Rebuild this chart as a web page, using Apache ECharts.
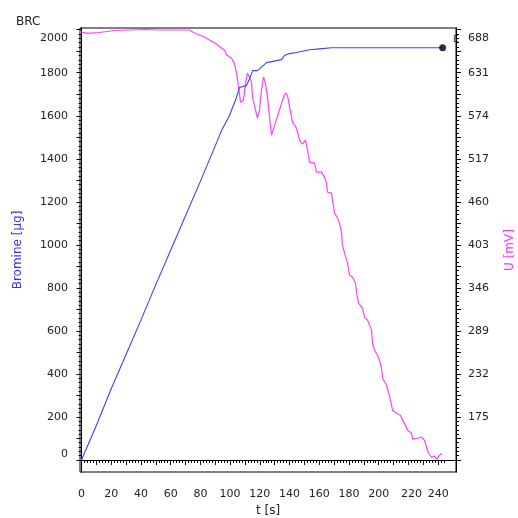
<!DOCTYPE html>
<html><head><meta charset="utf-8">
<script src="https://cdn.jsdelivr.net/npm/echarts@6/dist/echarts.min.js"></script>
<style>html,body{margin:0;padding:0;background:#fff}#c{width:518px;height:518px}</style>
</head><body><div id="c"></div>
<script>
// Bromine [µg] vs t [s]
const bromineT = [0, 10, 20, 30, 40, 50, 60, 70, 80, 90, 94.2, 99.6, 104.3, 106.3, 111, 113.2, 115.2, 118.4, 124.5, 134.6, 136.6, 140, 144.7, 153.4, 160.2, 168.2, 243];
const bromineV = [0, 160, 331, 490, 650, 815, 975, 1135, 1295, 1460, 1531, 1601, 1685, 1731, 1740, 1773, 1810, 1810, 1847, 1861, 1880, 1889, 1894, 1907, 1911, 1916, 1916];
// U [mV] vs t [s]
const voltT = [-1, 4, 12.1, 22.2, 42.4, 52.5, 72.7, 76, 82.8, 86.1, 90.8, 94.2, 96.2, 97.6, 100.9, 103, 104.3, 105.7, 107, 108.3, 109, 110.4, 111.7, 113, 114.4, 115.1, 117.1, 118.4, 119.8, 121.1, 122.5, 123.8, 125.2, 126.5, 127.9, 128.5, 130.6, 133.2, 135.3, 137.3, 138.6, 140, 142, 144.7, 146.7, 148.7, 150.7, 152.1, 153.4, 156.8, 158.1, 161.5, 163.5, 164.9, 165.5, 168.2, 168.9, 170.3, 172.3, 173.6, 175, 175.6, 177, 179, 180.4, 182.4, 184.4, 185.1, 186.4, 189.1, 190.4, 192.5, 195.2, 195.8, 197.2, 199.2, 200.5, 201.9, 202.6, 205.2, 206.6, 207.9, 209.3, 212, 214.7, 216, 218, 219.4, 222.1, 222.7, 226.1, 228.8, 230.8, 232.2, 233.5, 235.5, 237.6, 238.9, 240.2, 241.6, 242.7];
const voltV = [685.3, 683.2, 684.3, 687, 688.3, 687.6, 687.6, 683.6, 678.3, 674.3, 669, 663.7, 661, 654.5, 650.5, 642.5, 630.6, 612, 592, 590.7, 594.7, 617.3, 630.6, 630.6, 618.7, 598.8, 581.6, 571, 581.6, 608, 625.3, 617.3, 598.8, 572.3, 548.3, 552.4, 565.5, 581.6, 594.8, 604.1, 601.4, 585.5, 565.5, 557.6, 541.7, 536.5, 541.7, 528.5, 512.6, 511.2, 499.4, 499.4, 492.7, 484.8, 472.8, 471.5, 462.3, 445, 438.4, 431.8, 418.5, 402.6, 392, 378.7, 362.8, 360.2, 352.2, 339, 325.7, 319.1, 307.1, 303.2, 290, 272.7, 263.4, 256.8, 250.2, 239.6, 226.3, 217, 207.8, 197.2, 183.9, 179.9, 177.3, 170.7, 164.1, 157.4, 153.4, 145.5, 146.8, 148.1, 144.1, 134.9, 126.9, 121.6, 123, 119, 121.6, 125.6, 125.6];
// end marker
const endPoint = [243, 1916];
const endLabel = 'E';
// tick labels
const xLabels = [0, 20, 40, 60, 80, 100, 120, 140, 160, 180, 200, 220, 240];
const leftLabels = [0, 200, 400, 600, 800, 1000, 1200, 1400, 1600, 1800, 2000];
const rightLabels = [175, 232, 289, 346, 403, 460, 517, 574, 631, 688];

const FONT = 'DejaVu Sans';
const range = (a, b, s) => { const r = []; for (let v = a; v <= b + 1e-9; v += s) r.push(+v.toFixed(3)); return r; };

const chart = echarts.init(document.getElementById('c'));
const baseAxis = {
  axisLine: { show: true, lineStyle: { color: '#000', width: 1 } },
  splitLine: { show: false },
};
chart.setOption({
  animation: false,
  backgroundColor: '#fff',
  title: { text: 'BRC', left: 11, top: 11, textStyle: { fontFamily: FONT, fontSize: 12, fontWeight: 'normal', color: '#222' } },
  grid: { left: 80, right: 62, top: 28, bottom: 46, show: true, borderColor: '#000', borderWidth: 1, containLabel: false, outerBoundsMode: 'none' },
  xAxis: [
    Object.assign({}, baseAxis, {
      type: 'value', min: -1, max: 252, position: 'bottom',
      axisTick: { show: true, customValues: range(0, 244, 2), length: 3, lineStyle: { color: '#000' } },
      axisLabel: { show: false },
      name: 't [s]', nameLocation: 'middle', nameGap: 33,
      nameTextStyle: { fontFamily: FONT, fontSize: 12, color: '#222' }
    }),
    Object.assign({}, baseAxis, {
      type: 'value', min: -1, max: 252, position: 'bottom',
      axisTick: { show: true, customValues: range(0, 240, 10), length: 5, lineStyle: { color: '#000' } },
      axisLabel: {
        show: true, customValues: xLabels, margin: 17, fontFamily: FONT, fontSize: 11, color: '#222',
        formatter: v => v === 220 ? '{r|220}' : String(v),
        rich: { r: { fontFamily: FONT, fontSize: 11, color: '#222', padding: [0, 0, 0, 6] } }
      }
    })
  ],
  yAxis: [
    Object.assign({}, baseAxis, {
      type: 'value', min: -56, max: 2008, position: 'left',
      axisTick: { show: true, customValues: range(0, 2000, 20), length: 3, lineStyle: { color: '#000' } },
      axisLabel: { show: false },
      name: 'Bromine [µg]', nameLocation: 'middle', nameGap: 56, nameRotate: 90,
      nameTextStyle: { fontFamily: FONT, fontSize: 12, color: '#3333ff' }
    }),
    Object.assign({}, baseAxis, {
      type: 'value', min: -56, max: 2008, position: 'left',
      axisTick: { show: true, customValues: range(0, 2000, 100), length: 5, lineStyle: { color: '#000' } },
      axisLabel: {
        show: true, customValues: leftLabels, margin: 12, fontFamily: FONT, fontSize: 11, color: '#222',
        formatter: v => v === 2000 ? '{t|2000}' : (v === 0 ? '{b|0}' : String(v)),
        rich: {
          t: { fontFamily: FONT, fontSize: 11, color: '#222', padding: [17, 0, 0, 0] },
          b: { fontFamily: FONT, fontSize: 11, color: '#222', padding: [0, 0, 11, 0] }
        }
      }
    }),
    Object.assign({}, baseAxis, {
      type: 'value', min: 102.04, max: 690.28, position: 'right',
      axisTick: { show: true, customValues: range(118, 688, 5.7), length: 3, lineStyle: { color: '#000' } },
      axisLabel: { show: false },
      name: 'U [mV]', nameLocation: 'middle', nameGap: 48, nameRotate: 90,
      nameTextStyle: { fontFamily: FONT, fontSize: 12, color: '#ff33ff' }
    }),
    Object.assign({}, baseAxis, {
      type: 'value', min: 102.04, max: 690.28, position: 'right',
      axisTick: { show: true, customValues: range(118, 688, 28.5), length: 5, lineStyle: { color: '#000' } },
      axisLabel: {
        show: true, customValues: rightLabels, margin: 12, fontFamily: FONT, fontSize: 11, color: '#222',
        formatter: v => v === 688 ? '{t|688}' : String(v),
        rich: { t: { fontFamily: FONT, fontSize: 11, color: '#222', padding: [16, 0, 0, 0] } }
      }
    })
  ],
  series: [
    {
      type: 'line', xAxisIndex: 0, yAxisIndex: 0, showSymbol: false, symbol: 'none',
      data: bromineT.map((t, i) => [t, bromineV[i]]),
      lineStyle: { color: '#4040ff', width: 1.1 }, z: 3
    },
    {
      type: 'line', xAxisIndex: 0, yAxisIndex: 2, showSymbol: false, symbol: 'none',
      data: voltT.map((t, i) => [t, voltV[i]]),
      lineStyle: { color: '#ff40ff', width: 1.2 }, z: 2
    },
    {
      type: 'scatter', xAxisIndex: 0, yAxisIndex: 0, symbolSize: 7, clip: false,
      itemStyle: { color: '#000' },
      data: [{ value: endPoint, label: { show: true, formatter: endLabel } }],
      label: { show: true, position: [14, -9], fontFamily: FONT, fontSize: 9, color: '#000' },
      labelLayout: { hideOverlap: false },
      z: 10
    }
  ]
});
</script></body></html>
